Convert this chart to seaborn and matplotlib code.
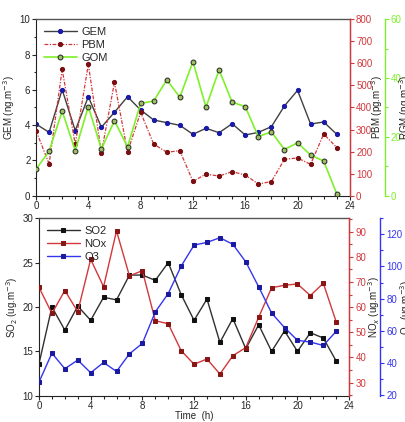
import matplotlib
matplotlib.use("Agg")
import matplotlib.pyplot as plt
from matplotlib.ticker import MultipleLocator
import seaborn as sns

sns.set_style("ticks")
plt.rcParams["font.family"] = ["Liberation Sans", "DejaVu Sans"]
plt.rcParams["font.size"] = 7

hours = list(range(24))

gem = [4.06, 3.59, 6.01, 3.69, 5.61, 3.88, 4.73, 5.61, 4.86, 4.29, 4.14, 3.99,
       3.48, 3.82, 3.57, 4.08, 3.44, 3.59, 3.91, 5.09, 5.97, 4.06, 4.18, 3.48]
pbm = [295, 144, 573, 233, 596, 195, 514, 198, 378, 234, 197, 204,
       65, 98, 89, 109, 94, 53, 64, 165, 171, 142, 280, 218]
gom = [9.0, 15.1, 28.8, 15.3, 30.3, 15.9, 25.5, 16.6, 31.4, 32.2, 39.4, 33.5,
       45.6, 30.1, 42.8, 31.8, 30.3, 20.1, 21.7, 15.7, 18.0, 13.8, 11.8, 0.6]

so2 = [13.6, 20.0, 17.4, 20.1, 18.5, 21.1, 20.8, 23.6, 23.6, 23.0, 25.0, 21.4,
       18.5, 20.9, 16.0, 18.7, 15.3, 18.0, 15.0, 17.3, 15.0, 17.1, 16.5, 13.9]
nox = [67.9, 57.5, 66.6, 58.2, 79.0, 68.1, 90.3, 72.4, 74.5, 54.6, 53.4, 42.7,
       37.3, 39.4, 33.4, 40.7, 43.9, 56.0, 67.7, 68.7, 69.2, 64.6, 69.5, 54.1]
o3 = [27.9, 46.0, 36.3, 41.7, 33.8, 40.2, 34.6, 45.6, 52.1, 71.7, 83.1, 100.2,
      113.3, 115.0, 117.9, 113.8, 102.9, 87.3, 71.0, 61.9, 54.0, 52.9, 50.8, 59.6]

red = "#d2383c"
green = "#7ff02a"
blue = "#3535f0"

fig = plt.figure(figsize=(4.06, 4.22), dpi=100)

# top panel: GEM / PBM / GOM
ax1 = fig.add_axes([0.0887, 0.5363, 0.773, 0.418])
ax2 = ax1.twinx()
ax3 = ax1.twinx()

sns.lineplot(x=hours, y=gem, ax=ax1, color="#404040", linewidth=1,
             marker="o", markersize=3, markerfacecolor="#1a1aa8",
             markeredgecolor="#1a1aa8", label="GEM")
sns.lineplot(x=hours, y=pbm, ax=ax2, color=red, linewidth=0.9,
             linestyle=(0, (3, 1.2, 1, 1.2)),
             marker="o", markersize=3, markerfacecolor="#7a0f12",
             markeredgecolor="#7a0f12", label="PBM")
sns.lineplot(x=hours, y=gom, ax=ax3, color=green, linewidth=1.2,
             marker="o", markersize=3.5, markerfacecolor="#9ac060",
             markeredgecolor="#222222", markeredgewidth=0.7, label="GOM")

ax1.set_xlim(0, 24)
ax1.set_ylim(0, 10)
ax2.set_ylim(0, 800)
ax3.set_ylim(0, 60)
ax1.xaxis.set_major_locator(MultipleLocator(4))
ax1.xaxis.set_minor_locator(MultipleLocator(1))
ax1.yaxis.set_major_locator(MultipleLocator(2))
ax1.yaxis.set_minor_locator(MultipleLocator(1))
ax2.yaxis.set_major_locator(MultipleLocator(100))
ax3.yaxis.set_major_locator(MultipleLocator(20))
ax3.yaxis.set_minor_locator(MultipleLocator(10))

ax1.set_ylabel("GEM (ng.m$^{-3}$)", labelpad=2)
ax2.set_ylabel("PBM (pg.m$^{-3}$)", labelpad=-2)
ax3.set_ylabel("RGM (pg.m$^{-3}$)", labelpad=-3)
ax3.spines["right"].set_position(("axes", 1.111))

# bottom panel: SO2 / NOx / O3
bx1 = fig.add_axes([0.096, 0.0623, 0.764, 0.4204])
bx2 = bx1.twinx()
bx3 = bx1.twinx()

sns.lineplot(x=hours, y=so2, ax=bx1, color="#303030", linewidth=1,
             marker="s", markersize=2.5, markerfacecolor="#111111",
             markeredgecolor="#111111", label="SO2")
sns.lineplot(x=hours, y=nox, ax=bx2, color=red, linewidth=1,
             marker="s", markersize=2.5, markerfacecolor="#8a1515",
             markeredgecolor="#8a1515", label="NOx")
sns.lineplot(x=hours, y=o3, ax=bx3, color=blue, linewidth=1,
             marker="s", markersize=2.5, markerfacecolor="#1a1aa0",
             markeredgecolor="#1a1aa0", label="O3")

bx1.set_xlim(0, 24)
bx1.set_ylim(10, 30)
bx2.set_ylim(24.8, 95.3)
bx3.set_ylim(19.5, 130)
bx1.xaxis.set_major_locator(MultipleLocator(4))
bx1.xaxis.set_minor_locator(MultipleLocator(1))
bx1.yaxis.set_major_locator(MultipleLocator(5))
bx2.yaxis.set_major_locator(MultipleLocator(10))
bx2.yaxis.set_minor_locator(MultipleLocator(5))
bx3.yaxis.set_major_locator(MultipleLocator(20))
bx3.yaxis.set_minor_locator(MultipleLocator(10))

bx1.set_xlabel("Time  (h)", labelpad=0)
bx1.set_ylabel("SO$_2$ (ug.m$^{-3}$)", labelpad=2)
bx2.set_ylabel("NO$_x$ (ug.m$^{-3}$)", labelpad=0)
bx3.set_ylabel("O$_3$ (ug.m$^{-3}$)", labelpad=-3)
bx3.spines["right"].set_position(("axes", 1.1))

for a in [ax1, bx1]:
    a.tick_params(axis="both", which="both", direction="out", length=3,
                  width=0.8, labelsize=7, pad=1)
    a.tick_params(which="minor", length=1.8)
    for s in ["left", "bottom"]:
        a.spines[s].set_color("#222222")
        a.spines[s].set_linewidth(0.8)
    a.spines["top"].set_color("#555555")
    a.spines["top"].set_linewidth(1.0)

for a, c in [(ax2, red), (bx2, red), (ax3, green), (bx3, blue)]:
    a.spines["right"].set_color(c)
    a.spines["right"].set_linewidth(1.0)
    a.tick_params(axis="y", which="both", colors=c, direction="out",
                  length=3, width=0.8, labelsize=7, pad=1.5)
    a.tick_params(axis="y", which="minor", length=1.8)
    a.yaxis.label.set_color("#222222")
    a.spines["left"].set_visible(False)
    a.spines["top"].set_visible(False)
    a.spines["bottom"].set_visible(False)

for a in [ax1, ax2, ax3, bx1, bx2, bx3]:
    if a.get_legend() is not None:
        a.get_legend().remove()

h1 = ax1.get_lines()[:1] + ax2.get_lines()[:1] + ax3.get_lines()[:1]
ax3.legend(h1, ["GEM", "PBM", "GOM"], loc="upper left", frameon=False,
           fontsize=8, handlelength=3, borderaxespad=0.3, labelspacing=0.25,
           handletextpad=0.4)
h2 = bx1.get_lines()[:1] + bx2.get_lines()[:1] + bx3.get_lines()[:1]
bx3.legend(h2, ["SO2", "NOx", "O3"], loc="upper left", frameon=False,
           fontsize=8, handlelength=3, borderaxespad=0.3, labelspacing=0.25,
           handletextpad=0.4)

plt.savefig("out.png", dpi=100)
